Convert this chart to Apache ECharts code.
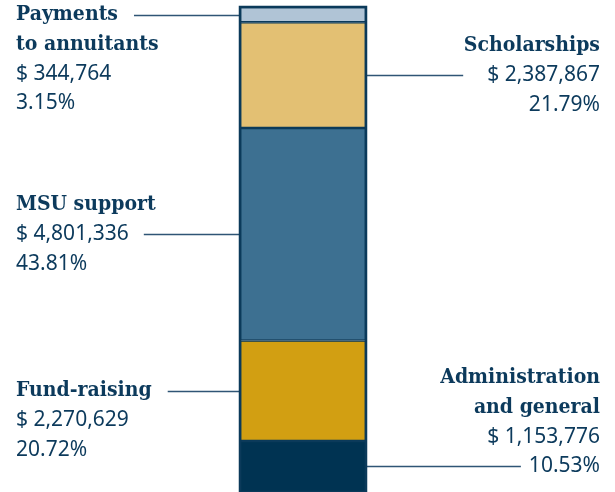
<!DOCTYPE html>
<html>
<head>
<meta charset="utf-8">
<script src="https://cdn.jsdelivr.net/npm/echarts@6/dist/echarts.min.js"></script>
<style>
  html, body { margin: 0; padding: 0; background: #fff; }
  #chart { width: 615px; height: 492px; }
</style>
</head>
<body>
<div id="chart"></div>
<script>
// segments, bottom -> top of the stacked bar
const titles = ['Administration\nand general', 'Fund-raising', 'MSU support', 'Scholarships', 'Payments\nto annuitants']
const amounts = [1153776, 2270629, 4801336, 2387867, 344764]
const shares = ['10.53%', '20.72%', '43.81%', '21.79%', '3.15%']
const colors = ['#003352', '#d29f12', '#3d7091', '#e3c073', '#b0c4d6']

const sides = ['right', 'left', 'left', 'right', 'left']
const anchorLine = [3, 0, 1, 1, 0] // text line the leader points at
const gaps = [8, 16, 15, 24, 16]   // space between text and leader

const textColor = '#0c3a5c'
const edgeColor = '#0b3a5a'
const LH = 29.5
const titleFamily = '"DejaVu Serif Condensed", "DejaVu Serif", serif'
const bodyFamily = '"Noto Sans", sans-serif'
const titleFont = 'bold 21px ' + titleFamily
const bodyFont = '21px ' + bodyFamily
const LEFT_X = 16
const RIGHT_X = 600

const total = amounts.reduce((a, b) => a + b, 0)
const bases = amounts.map((v, i) => amounts.slice(0, i).reduce((a, b) => a + b, 0))
const fmt = v => '$ ' + v.toLocaleString('en-US')

const lines = i =>
  titles[i].split('\n').map(t => ({ t, title: true }))
    .concat([{ t: fmt(amounts[i]) }, { t: shares[i] }])

const ctx = document.createElement('canvas').getContext('2d')
const textWidth = l => {
  ctx.font = l.title ? titleFont : bodyFont
  return ctx.measureText(l.t).width
}

const myChart = echarts.init(document.getElementById('chart'))

const barSeries = amounts.map((v, i) => ({
  name: titles[i].replace('\n', ' '),
  type: 'bar',
  stack: 'total',
  barWidth: '100%',
  z: 3,
  data: [v],
  itemStyle: { color: colors[i], borderColor: edgeColor, borderWidth: 1.25 },
  label: {
    show: true,
    formatter: () => lines(i).map(l => (l.title ? '{t|' : '{v|') + l.t + '}').join('\n'),
    rich: {
      t: { fontFamily: titleFamily, fontWeight: 'bold', fontSize: 21, lineHeight: LH, color: textColor },
      v: { fontFamily: bodyFamily, fontSize: 21, lineHeight: LH, color: textColor }
    }
  },
  labelLayout: p => {
    const midY = p.rect.y + p.rect.height / 2
    const top = midY - (anchorLine[i] + 0.5) * LH
    return sides[i] === 'left'
      ? { x: LEFT_X, y: top, align: 'left', verticalAlign: 'top' }
      : { x: RIGHT_X, y: top, align: 'right', verticalAlign: 'top' }
  }
}))

// leader lines from the text to the middle of each segment
const leaderSeries = {
  type: 'custom',
  z: 1,
  silent: true,
  encode: { x: 0, y: [1, 2] },
  data: amounts.map((v, i) => [0, bases[i], bases[i] + v, i]),
  renderItem: (params, api) => {
    const i = api.value(3)
    const lo = api.coord([0, api.value(1)])
    const hi = api.coord([0, api.value(2)])
    const half = api.size([1, 0])[0] / 2
    const y = Math.round((lo[1] + hi[1]) / 2) + 0.5
    const w = textWidth(lines(i)[anchorLine[i]])
    const xs = sides[i] === 'left'
      ? [LEFT_X + w + gaps[i], lo[0] - half]
      : [lo[0] + half, RIGHT_X - w - gaps[i]]
    return {
      type: 'line',
      shape: { x1: xs[0], y1: y, x2: xs[1], y2: y },
      style: { stroke: '#2f5575', lineWidth: 1.5 }
    }
  }
}

// outer frame of the whole bar
const frameSeries = {
  type: 'custom',
  z: 5,
  silent: true,
  encode: { x: 0, y: [1, 2] },
  data: [[0, 0, total]],
  renderItem: (params, api) => {
    const lo = api.coord([0, api.value(1)])
    const hi = api.coord([0, api.value(2)])
    const w = api.size([1, 0])[0]
    return {
      type: 'rect',
      shape: { x: lo[0] - w / 2, y: hi[1], width: w, height: lo[1] - hi[1] },
      style: { fill: 'none', stroke: edgeColor, lineWidth: 2.5 }
    }
  }
}

const option = {
  animation: false,
  grid: { left: 240, right: 249, top: 7, bottom: 0 },
  xAxis: { type: 'category', data: ['Expenses'], show: false },
  yAxis: { type: 'value', min: 0, max: total, show: false },
  series: [leaderSeries].concat(barSeries, [frameSeries])
}

option && myChart.setOption(option)
</script>
</body>
</html>
